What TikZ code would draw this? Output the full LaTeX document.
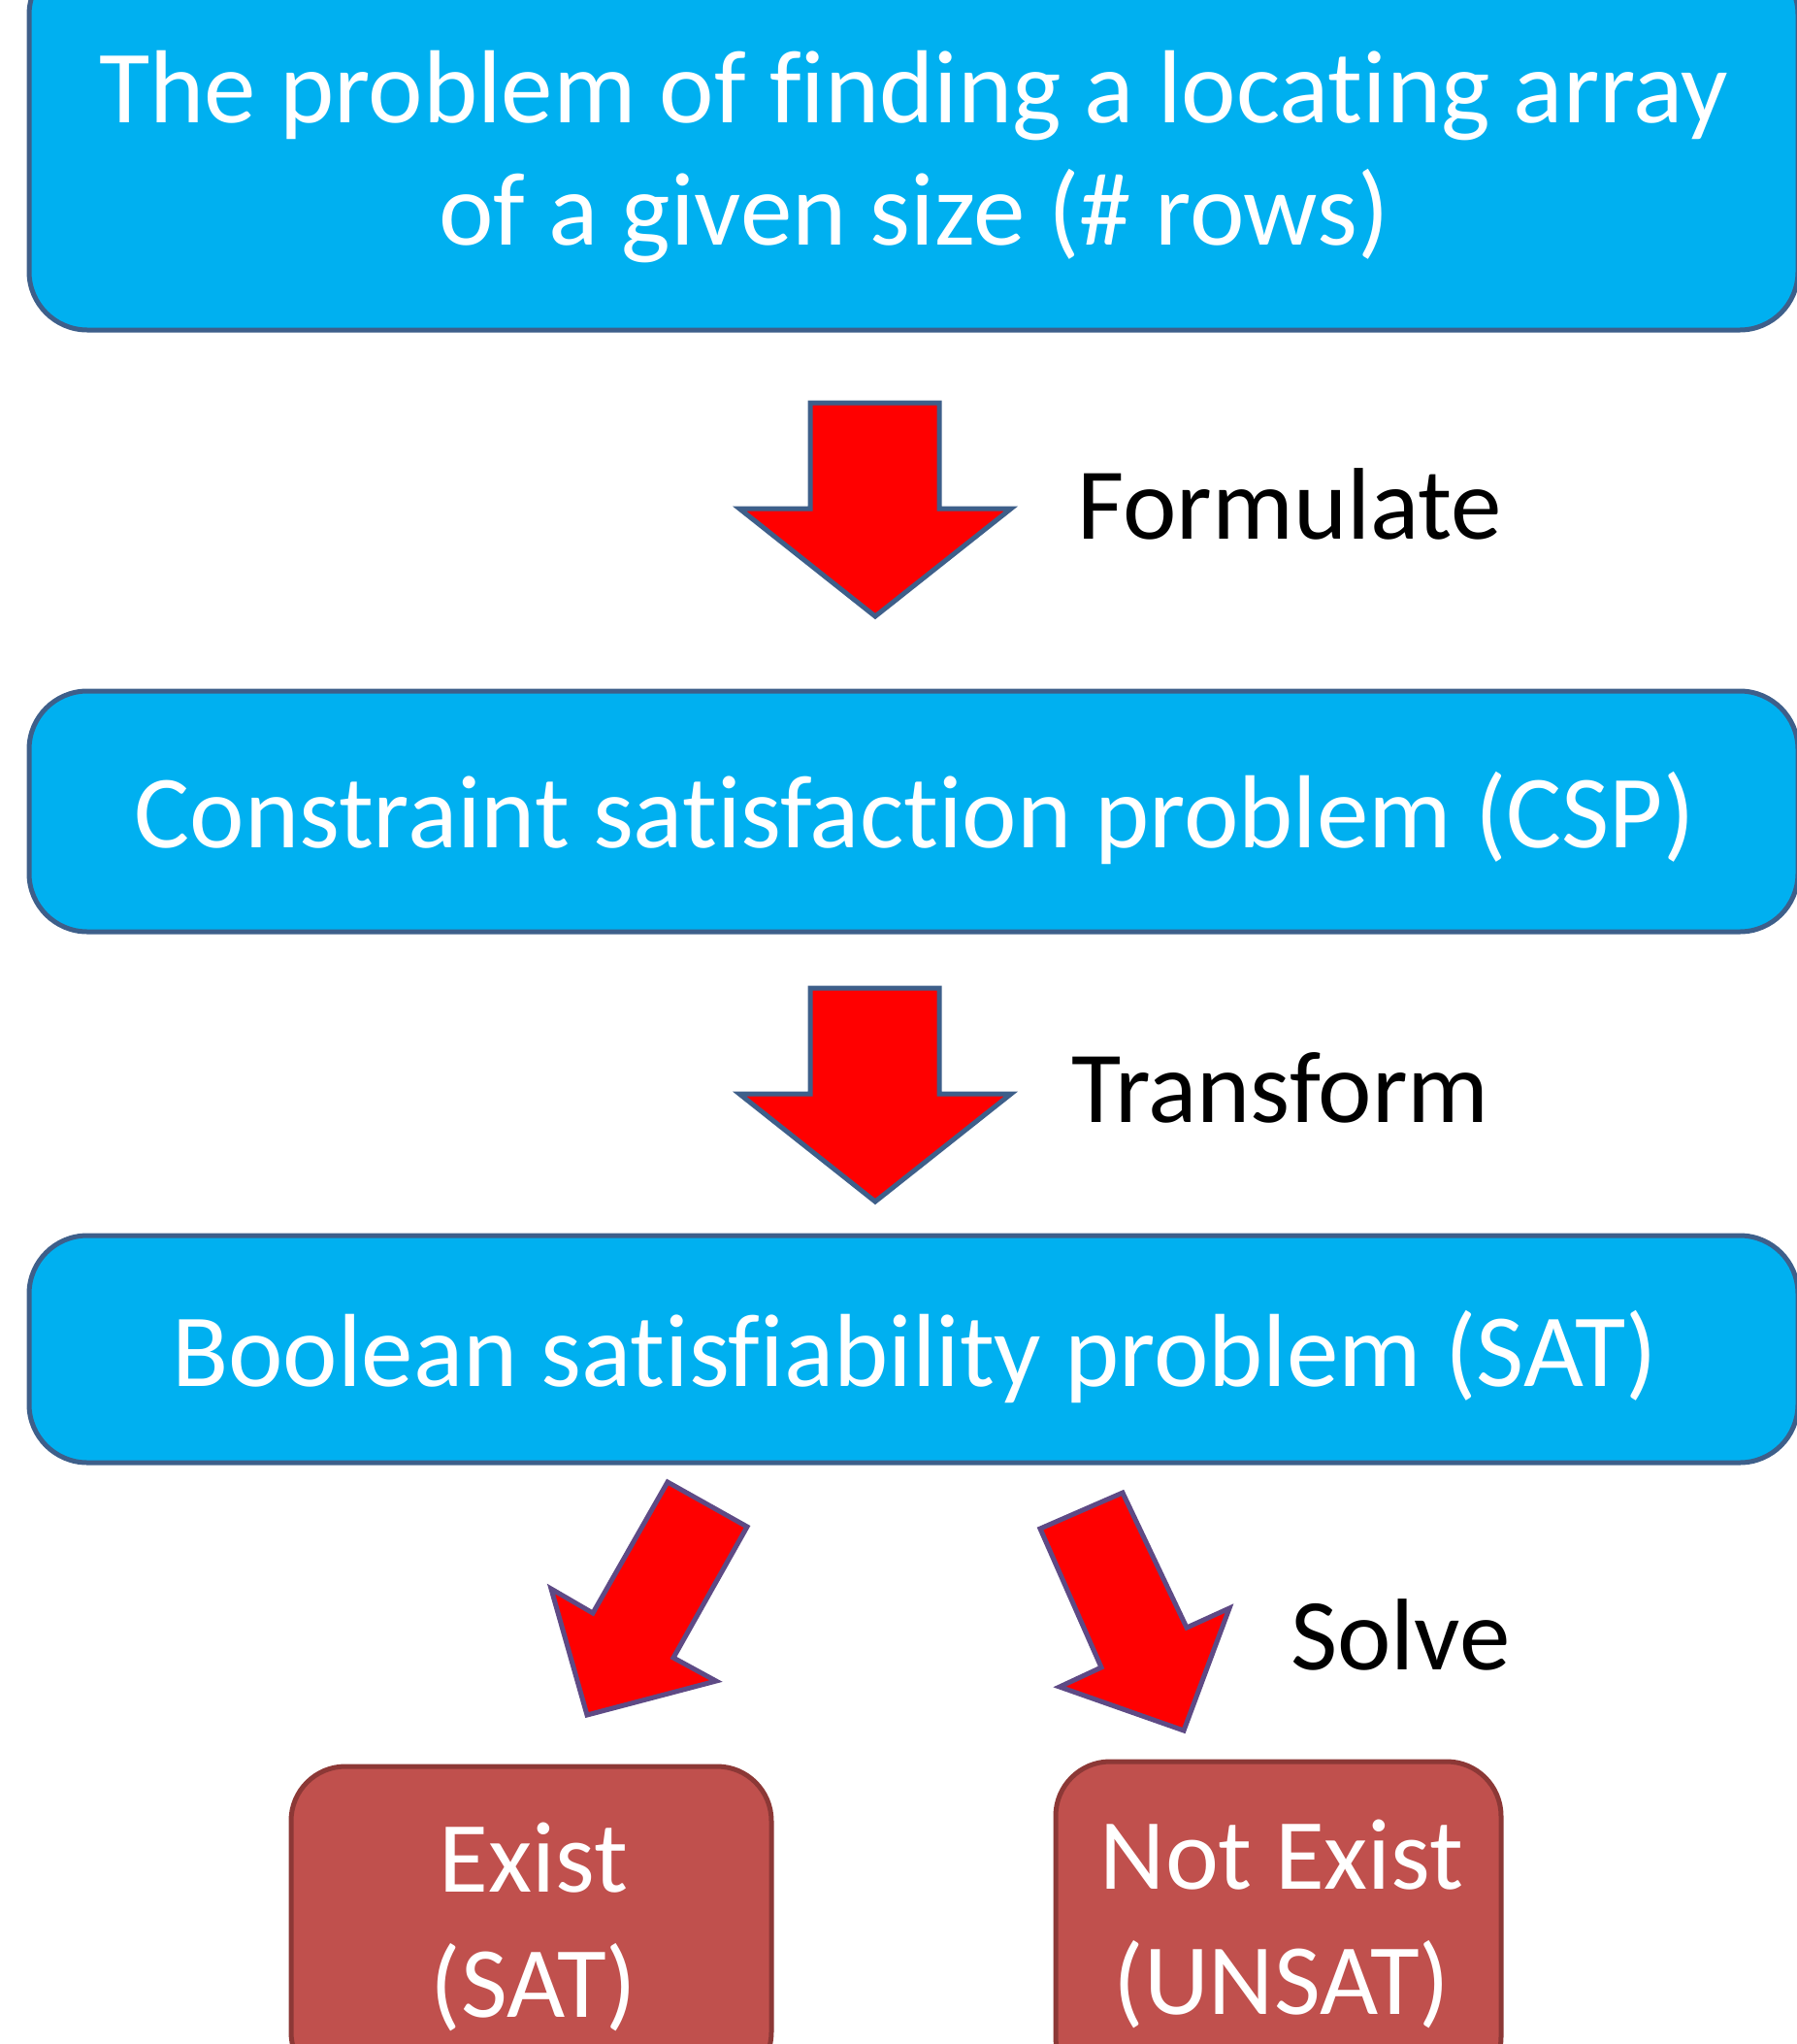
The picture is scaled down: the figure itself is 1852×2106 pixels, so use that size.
\documentclass[tikz,border=0pt]{standalone}
\usepackage{fontspec}
\setmainfont{Carlito}[Ligatures={NoCommon}]
\definecolor{bluefill}{HTML}{00B0F0}
\definecolor{blueedge}{HTML}{3E5F8A}
\definecolor{redfill}{HTML}{C0504D}
\definecolor{rededge}{HTML}{8C3836}
\definecolor{arrowfill}{HTML}{FF0000}
\definecolor{arrowedgeA}{HTML}{3E5F8A}
\definecolor{arrowedgeB}{HTML}{5E4A85}
\tikzset{
 bluebox/.style={draw=blueedge, fill=bluefill, line width=2.5pt, rounded corners=30pt, minimum width=911.5pt, inner sep=0pt},
 redbox/.style={draw=rededge, fill=redfill, line width=2.5pt, rounded corners=28pt, inner sep=0pt},
 boxtext/.style={text=white, font=\fontsize{53.5}{63}\selectfont, align=center, inner sep=0pt},
 smalltext/.style={text=white, font=\fontsize{52}{64.5}\selectfont, align=center, inner sep=0pt},
 steplabel/.style={text=black, font=\fontsize{52.5}{64}\selectfont, inner sep=0pt, anchor=base west},
 blockarrow/.style={fill=arrowfill, draw=arrowedgeA, line width=2.5pt, line join=miter},
 blockarrowb/.style={blockarrow, draw=arrowedgeB},
}
\begin{document}
\begin{tikzpicture}[x=0.5pt,y=-0.5pt]
\useasboundingbox (0,0) rectangle (1852,2106);
% boxes
\node[bluebox, minimum height=192.5pt] (problem) at (941.5,147.5) {};
\node[bluebox, minimum height=124pt] (csp) at (941.5,836) {};
\node[bluebox, minimum height=117pt] (sat) at (941.5,1390) {};
\node[redbox, minimum width=247.5pt, minimum height=165pt] (exist) at (547.5,1985) {};
\node[redbox, minimum width=229.5pt, minimum height=170pt] (notexist) at (1317.5,1985) {};
% texts
\node[boxtext, anchor=base] (problemtext) at (942,252) {The problem of finding a locating array\\of a given size (\# rows)};
\node[boxtext, anchor=base] (csptext) at (943,873) {Constraint satisfaction problem (CSP)};
\node[boxtext, anchor=base] (sattext) at (943,1428) {Boolean satisfiability problem (SAT)};
\node[smalltext, anchor=base] (existtext) at (550,2078) {Exist\\(SAT)};
\node[smalltext, anchor=base] (notexisttext) at (1321,2075) {Not Exist\\(UNSAT)};
% labels
\node[steplabel] (formulate) at (1110,555) {Formulate};
\node[steplabel] (transform) at (1104,1156) {Transform};
\node[steplabel] (solve) at (1330,1720) {Solve};
% block arrows
\draw[blockarrow] (835,415) -- (968,415) -- (968,524) -- (1042,524) -- (902,635) -- (762,524) -- (835,524) -- cycle;
\draw[blockarrow] (835,1018) -- (968,1018) -- (968,1127) -- (1042,1127) -- (902,1238) -- (762,1127) -- (835,1127) -- cycle;
\draw[blockarrowb] (688,1527) -- (770,1573) -- (694,1708) -- (738,1732) -- (605,1767) -- (568,1637) -- (611,1662) -- cycle;
\draw[blockarrowb] (1072,1575) -- (1157,1538) -- (1223,1677) -- (1267,1657) -- (1220,1783) -- (1092,1738) -- (1135,1718) -- cycle;
\end{tikzpicture}
\end{document}
